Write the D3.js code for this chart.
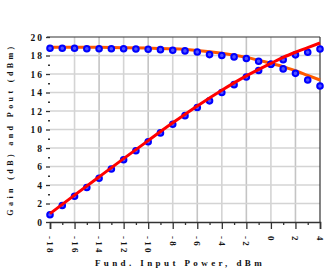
<!DOCTYPE html>
<html>
<head>
<meta charset="utf-8">
<script src="https://cdn.jsdelivr.net/npm/d3@7"></script>
<style>
  body { margin: 0; background: #fff; }
  text { font-family: "Liberation Serif", serif; font-weight: bold; fill: #111; }
</style>
</head>
<body>
<div id="chart"></div>
<script>
const margin = {top: 37, right: 6, bottom: 50, left: 50},
  width = 326 - margin.left - margin.right,
  height = 272 - margin.top - margin.bottom;

// measured points (every 1 dBm)
const pinMeas = [-18, -17, -16, -15, -14, -13, -12, -11, -10, -9, -8, -7, -6, -5, -4, -3, -2, -1, 0, 1, 2, 3, 4];
const gainMeas = [18.78, 18.78, 18.78, 18.73, 18.73, 18.73, 18.73, 18.7, 18.67, 18.63, 18.57, 18.5, 18.38, 18.1, 18.0, 17.85, 17.68, 17.38, 17.05, 16.55, 16.07, 15.35, 14.7];
const poutMeas = [0.78, 1.78, 2.78, 3.73, 4.73, 5.73, 6.73, 7.7, 8.67, 9.63, 10.57, 11.5, 12.38, 13.1, 14.0, 14.85, 15.68, 16.38, 17.05, 17.55, 18.07, 18.35, 18.7];

// simulated curves
const pinSim = [-18, -16, -14, -12, -10, -8, -6, -4, -2, 0, 1, 2, 3, 4];
const gainSim = [18.9, 18.9, 18.88, 18.85, 18.8, 18.72, 18.55, 18.25, 17.8, 17.15, 16.8, 16.35, 15.85, 15.35];
const poutSim = [0.9, 2.9, 4.88, 6.85, 8.8, 10.72, 12.55, 14.25, 15.8, 17.15, 17.8, 18.35, 18.85, 19.35];

const xTicks = d3.range(-18, 5, 2);
const yTicks = d3.range(0, 21, 2);

const svg = d3.select("#chart")
  .append("svg")
    .attr("width", 326)
    .attr("height", 272)
  .append("g")
    .attr("transform", `translate(${margin.left},${margin.top})`);

const x = d3.scaleLinear().domain([-18, 4]).range([0, width]);
const y = d3.scaleLinear().domain([0, 20]).range([height, 0]);

// grid
svg.selectAll(".vgrid")
  .data(xTicks.slice(1, -1))
  .join("line")
    .attr("x1", d => x(d)).attr("x2", d => x(d))
    .attr("y1", 0).attr("y2", height)
    .attr("stroke", (d, i) => i % 2 ? "#c4c4c4" : "#d4d4d4")
    .attr("stroke-width", 1.6);

svg.selectAll(".hgrid")
  .data(yTicks.slice(1, -1))
  .join("line")
    .attr("x1", 0).attr("x2", width)
    .attr("y1", d => y(d)).attr("y2", d => y(d))
    .attr("stroke", "#d4d4d4")
    .attr("stroke-width", 1.6);

// frame
svg.append("line").attr("x1", -3).attr("x2", width).attr("y1", 0).attr("y2", 0)
  .attr("stroke", "#333").attr("stroke-width", 1.2);
svg.append("line").attr("x1", width).attr("x2", width).attr("y1", 0).attr("y2", height)
  .attr("stroke", "#333").attr("stroke-width", 1.2);

// x axis
const xAxis = svg.append("g")
  .attr("transform", `translate(0,${height})`)
  .call(d3.axisBottom(x).tickValues(xTicks).tickSize(7).tickFormat(""));
xAxis.select(".domain").attr("stroke", "#333").attr("stroke-width", 1.6);
xAxis.selectAll(".tick line").attr("stroke", "#333").attr("stroke-width", 1.3);
svg.append("g")
  .attr("transform", `translate(0,${height})`)
  .call(d3.axisBottom(x).tickValues(d3.range(-17, 4, 2)).tickSize(3).tickFormat(""))
  .call(g => g.select(".domain").remove())
  .selectAll(".tick line").attr("stroke", "#333").attr("stroke-width", 1.3);

svg.selectAll(".xlab")
  .data(xTicks)
  .join("text")
    .attr("transform", d => `translate(${x(d) - 3},${height + 14}) rotate(90)`)
    .attr("font-size", 9)
    .attr("letter-spacing", 2.2)
    .text(d => d);

// y axis
const yAxis = svg.append("g")
  .call(d3.axisLeft(y).tickValues(yTicks).tickSize(4).tickFormat(""));
yAxis.select(".domain").remove();
yAxis.selectAll(".tick line").attr("stroke", "#333").attr("stroke-width", 1.3);
svg.append("g")
  .call(d3.axisLeft(y).tickValues(d3.range(1, 20, 2)).tickSize(2).tickFormat(""))
  .call(g => g.select(".domain").remove())
  .selectAll(".tick line").attr("stroke", "#333").attr("stroke-width", 1.3);

svg.selectAll(".ylab")
  .data(yTicks)
  .join("text")
    .attr("x", -6)
    .attr("y", d => y(d) + 3.5)
    .attr("text-anchor", "end")
    .attr("font-size", 9.5)
    .attr("letter-spacing", 2)
    .text(d => d);

// titles
svg.append("text")
  .attr("transform", `translate(${-37},${height / 2}) rotate(-90)`)
  .attr("text-anchor", "middle")
  .attr("font-size", 8)
  .attr("letter-spacing", 3.4)
  .text("Gain (dB) and Pout (dBm)");

svg.append("text")
  .attr("x", 130)
  .attr("y", height + 44)
  .attr("text-anchor", "middle")
  .attr("font-size", 9)
  .attr("letter-spacing", 3.4)
  .text("Fund. Input Power, dBm");

// curves and markers
const line = d3.line().curve(d3.curveMonotoneX);

svg.append("path")
  .attr("d", line(pinSim.map((p, i) => [x(p), y(gainSim[i])])))
  .attr("fill", "none").attr("stroke", "#ff5a00").attr("stroke-width", 3);

svg.selectAll(".gpt")
  .data(pinMeas)
  .join("circle")
    .attr("cx", d => x(d))
    .attr("cy", (d, i) => y(gainMeas[i]))
    .attr("r", 2.8)
    .attr("fill", "#5050ff")
    .attr("stroke", "#0000ff")
    .attr("stroke-width", 2);

svg.selectAll(".ppt")
  .data(pinMeas)
  .join("circle")
    .attr("cx", d => x(d))
    .attr("cy", (d, i) => y(poutMeas[i]))
    .attr("r", 2.8)
    .attr("fill", "#5050ff")
    .attr("stroke", "#0000ff")
    .attr("stroke-width", 2);

svg.append("path")
  .attr("d", line(pinSim.map((p, i) => [x(p), y(poutSim[i])])))
  .attr("fill", "none").attr("stroke", "#ff0000").attr("stroke-width", 3);
</script>
</body>
</html>
